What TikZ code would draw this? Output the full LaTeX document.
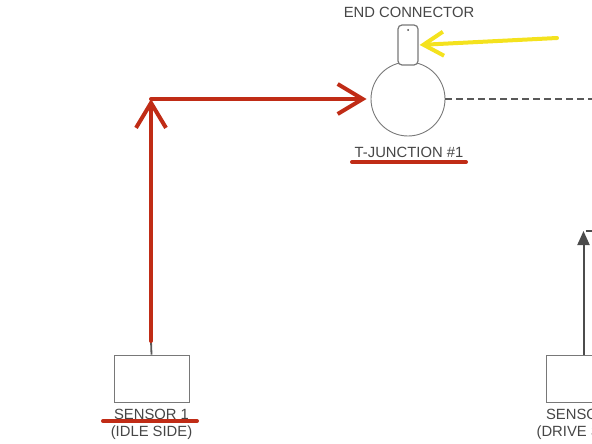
\documentclass[tikz,border=0pt]{standalone}
\usepackage{fontspec}
\setmainfont{Liberation Sans}
\usetikzlibrary{arrows.meta}
\definecolor{redln}{RGB}{192,44,22}
\definecolor{yelln}{RGB}{244,226,30}
\definecolor{greyln}{RGB}{120,120,120}
\definecolor{txt}{RGB}{70,70,70}
\tikzset{
  box/.style={draw=greyln, line width=0.9pt, minimum width=75pt, minimum height=47pt, inner sep=0pt},
  lbl/.style={text=txt, font=\fontsize{14.8pt}{18pt}\selectfont, inner sep=0pt, align=center},
  redpath/.style={draw=redln, line width=4pt, line cap=round, line join=round},
  chev/.style={-{Straight Barb[length=25pt,width=30pt,line width=4pt]}},
  ychev/.style={-{Straight Barb[length=20pt,width=24pt,line width=4pt]}},
  uline/.style={draw=redln, line width=4pt, line cap=round},
}
\begin{document}
\begin{tikzpicture}[x=1pt,y=-1pt]
\useasboundingbox (0,0) rectangle (592,444);
\clip (0,0) rectangle (592,444);
% nodes
\node[draw=greyln, line width=0.9pt, circle, minimum size=74pt, inner sep=0pt] (tj) at (408,99) {};
\node[draw=greyln, line width=1.2pt, rounded corners=4pt, minimum width=20pt, minimum height=40pt, inner sep=0pt, fill=white] (ec) at (408,45) {};
\fill[txt] (408,30) circle (1pt);
\node[box] (s1) at (151.5,378.5) {};
\node[box] (s2) at (583.5,378.5) {};
% labels
\node[lbl] (eclbl) at (409,12) {END CONNECTOR};
\node[lbl] (tjlbl) at (409,152) {T-JUNCTION \#1};
\node[lbl] (s1a) at (151.5,414) {SENSOR 1};
\node[lbl] (s1b) at (151.5,433) {(IDLE SIDE)};
\node[lbl] (s2a) at (583.5,414) {SENSOR 2};
\node[lbl] (s2b) at (583.5,433) {(DRIVE SIDE)};
% coordinates
\coordinate (r0) at (151,341);
\coordinate (corner) at (151,99);
\coordinate (ystart) at (557,38);
\coordinate (dashend) at (600,99);
\coordinate (gtop) at (583.5,231);
\coordinate (gright) at (600,231);
% connectors
\draw[black!65, line width=1.8pt] (s1.north) -- (r0);
\draw[redpath, chev] (r0) -- (corner);
\draw[redpath, chev, shorten >=4pt] (corner) -- (tj.west);
\draw[draw=yelln, line width=4pt, line cap=round, ychev, shorten >=1pt] (ystart) -- (ec.east);
\draw[draw=black!65, line width=1.5pt, dash pattern=on 7pt off 4pt] (tj.east) -- (dashend);
\draw[draw=black!70, line width=2pt, -{Triangle[length=14pt,width=12pt]}] (s2.north) -- (gtop);
\draw[draw=black!70, line width=2pt] ([xshift=2pt]gtop) -- (gright);
% underlines
\draw[uline] (352,162) -- (466,162);
\draw[uline] (103,421) -- (197,421);
\end{tikzpicture}
\end{document}
